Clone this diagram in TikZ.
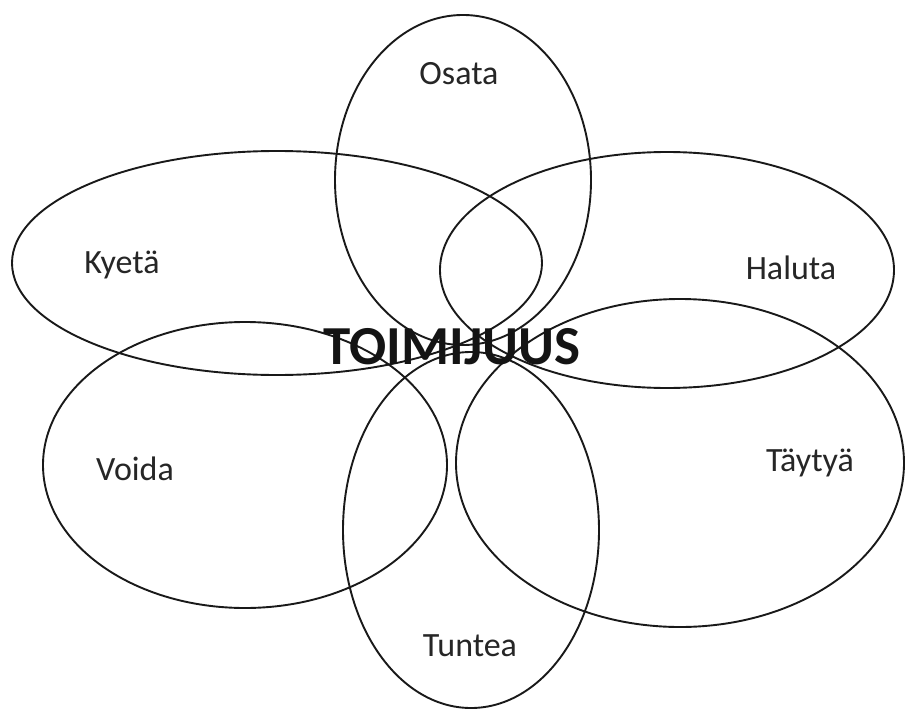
\documentclass[tikz,border=0pt]{standalone}
\usepackage{fontspec}
\setmainfont{Carlito}
\usetikzlibrary{shapes.geometric}
\begin{document}
\begin{tikzpicture}[x=1pt,y=-1pt,
  petal/.style={draw=black!90, line width=1.9pt, ellipse, inner sep=0pt, outer sep=0pt},
  lbl/.style={text=black!85, font=\fontsize{34}{40}\selectfont, inner sep=0pt},
  core/.style={text=black!92, font=\fontsize{55}{60}\selectfont\bfseries, inner sep=0pt}]
\useasboundingbox[fill=white] (0,0) rectangle (905,709);
\node[petal, minimum width=256pt, minimum height=330pt] (osata) at (463,180) {};
\node[petal, minimum width=530pt, minimum height=224pt] (kyeta) at (277,263) {};
\node[petal, minimum width=454pt, minimum height=236pt] (haluta) at (667,270) {};
\node[petal, minimum width=404pt, minimum height=286pt] (voida) at (245,465) {};
\node[petal, minimum width=448pt, minimum height=328pt] (taytya) at (680,463) {};
\node[petal, minimum width=256pt, minimum height=356pt] (tuntea) at (471,530) {};
\node[lbl] (tOsata) at (459,74) {Osata};
\node[lbl] (tKyeta) at (122,265) {Kyetä};
\node[lbl] (tHaluta) at (791,268) {Haluta};
\node[lbl] (tVoida) at (135,469) {Voida};
\node[lbl] (tTaytya) at (810,463) {Täytyä};
\node[lbl] (tTuntea) at (470,646) {Tuntea};
\node[core] (toimijuus) at (452,347) {TOIMIJUUS};
\end{tikzpicture}
\end{document}
